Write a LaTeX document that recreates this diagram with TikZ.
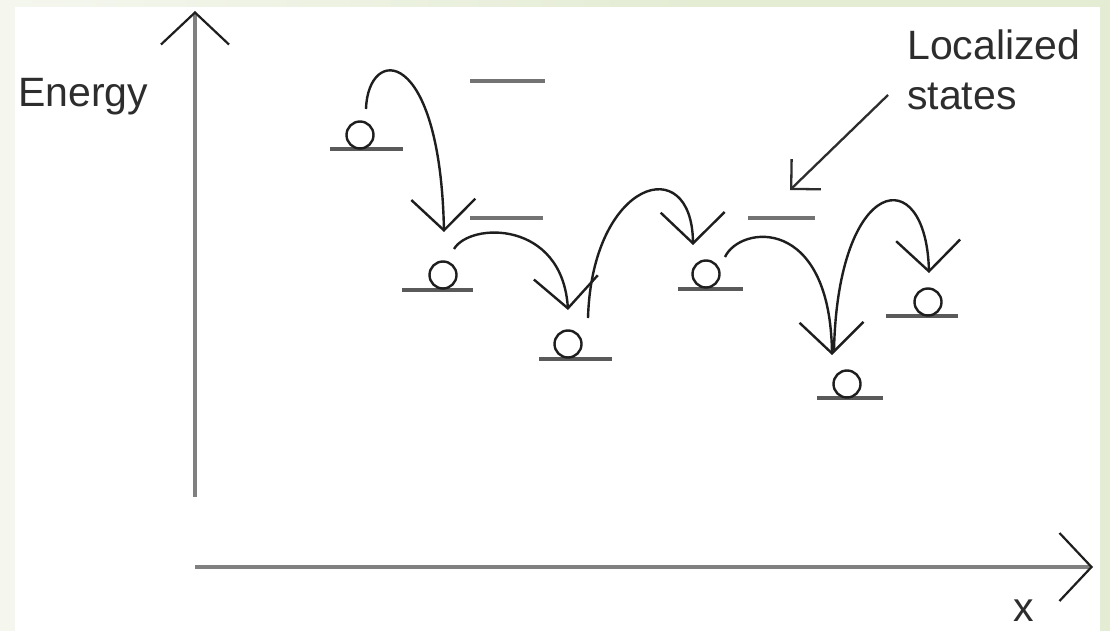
\documentclass[tikz,border=0pt]{standalone}
\usepackage{fontspec}
\setmainfont{Liberation Sans}
\usetikzlibrary{arrows.meta}
\definecolor{pagegreen}{RGB}{228,236,212}
\definecolor{pagepale}{RGB}{245,247,239}
\definecolor{axisgray}{RGB}{128,128,128}
\definecolor{levelgray}{RGB}{90,90,90}
\definecolor{emptygray}{RGB}{115,115,115}
\definecolor{ink}{RGB}{30,30,30}
\definecolor{label}{RGB}{45,45,45}

\begin{document}
\begin{tikzpicture}[x=1pt,y=-1pt,
  axis/.style={draw=axisgray,line width=3.8pt,
    -{Straight Barb[length=32pt,width=68pt,line width=2.2pt,color=ink]}},
  level/.style={draw=levelgray,line width=3.3pt},
  emptylevel/.style={draw=emptygray,line width=3.3pt},
  ball/.style={circle,draw=ink,line width=2.4pt,minimum size=27pt,inner sep=0pt},
  hop/.style={draw=ink,line width=2.4pt,
    -{Straight Barb[length=31pt,width=64pt]}},
  pointer/.style={draw=label,line width=2.3pt,
    -{Straight Barb[length=21pt,width=42pt]}},
  txt/.style={anchor=base west,inner sep=0pt,text=label,
    font=\fontsize{41}{49}\selectfont}]

% page and its tinted margins
\useasboundingbox (0,0) rectangle (1110,631);
\fill[pagegreen] (0,0) rectangle (1110,631);
\shade[left color=pagepale,right color=pagegreen] (0,0) rectangle (700,7);
\fill[pagepale] (0,7) rectangle (15,631);
\fill[white] (15,7) rectangle (1100,631);

% axes
\coordinate (ybot) at (195,497);
\coordinate (ytop) at (195,11);
\coordinate (xleft) at (195,567);
\coordinate (xright) at (1093,567);
\draw[axis] (ybot) -- (ytop);
\draw[axis] (xleft) -- (xright);

\node[txt] (energy) at (18,107) {Energy};
\node[txt] (xlab) at (1013,621) {x};

% occupied localized states: level with a carrier sitting on it
\draw[level] (330,149) -- (403,149);
\node[ball] (b1) at (360,135) {};
\draw[level] (402,290) -- (473,290);
\node[ball] (b2) at (443,275) {};
\draw[level] (539,359) -- (612,359);
\node[ball] (b3) at (568,344) {};
\draw[level] (678,289) -- (743,289);
\node[ball] (b4) at (706,274) {};
\draw[level] (817,398) -- (883,398);
\node[ball] (b5) at (847,384) {};
\draw[level] (886,316) -- (958,316);
\node[ball] (b6) at (928,302) {};

% empty localized states
\draw[emptylevel] (470,81) -- (545,81);
\draw[emptylevel] (470,218) -- (543,218);
\draw[emptylevel] (748,218) -- (815,218);

% hopping transitions
\coordinate (h1s) at (366,109);
\coordinate (h1e) at (444,232);
\coordinate (h2s) at (454,249);
\coordinate (h2e) at (568,310);
\coordinate (h3s) at (588,318);
\coordinate (h3e) at (693,245);
\coordinate (h4s) at (725,257);
\coordinate (h4e) at (832,355);
\coordinate (h5s) at (834,350);
\coordinate (h5e) at (929,273);

\draw[hop] (h1s) .. controls (368,45) and (440,45) .. (h1e);
\draw[hop] (h2s) .. controls (470,222) and (562,220) .. (h2e);
\draw[hop] (h3s) .. controls (592,180) and (692,150) .. (h3e);
\draw[hop] (h4s) .. controls (740,225) and (830,215) .. (h4e);
\draw[hop] (h5s) .. controls (838,175) and (926,160) .. (h5e);

% label for the states
\node[txt] (loc1) at (907,60) {Localized};
\node[txt] (loc2) at (907,110) {states};
\coordinate (ptail) at (888,95);
\coordinate (ptip) at (790,190);
\draw[pointer] (ptail) -- (ptip);

\end{tikzpicture}
\end{document}
